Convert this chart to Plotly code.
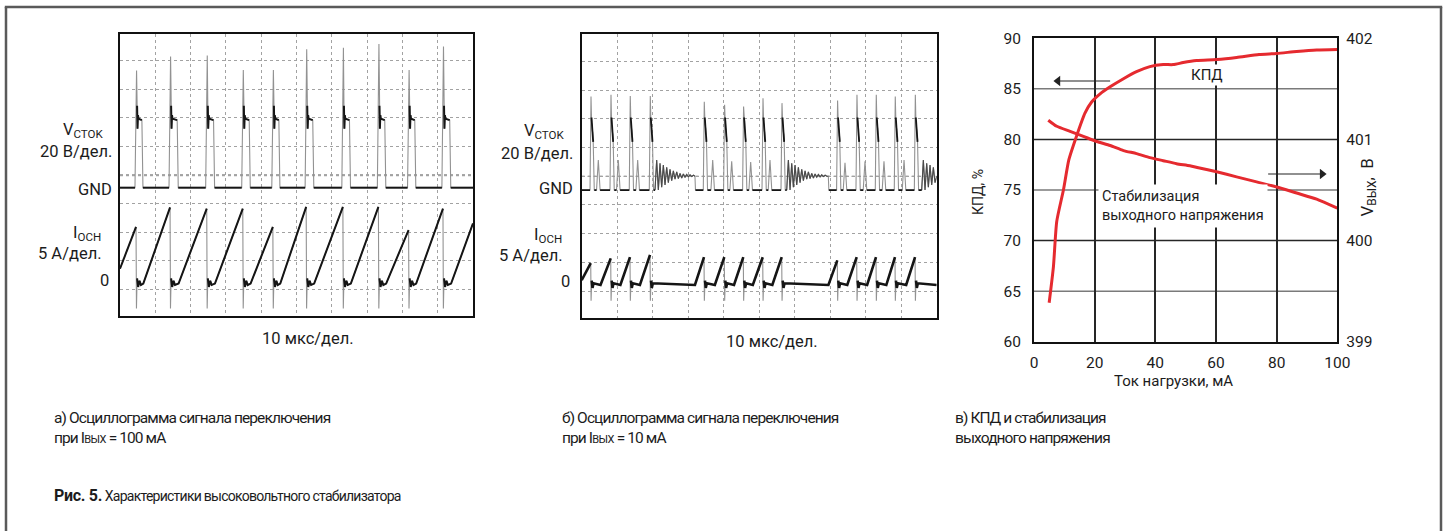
import plotly.graph_objects as go

W, H = 1444, 531
SANS = "Roboto, 'Liberation Sans', sans-serif"
INK = "#1c1c1c"

# ---------------- Panel a: scope trace at I_out = 100 mA (units: divisions) ----------------
A_RISE = [0.454, 1.418, 2.457, 3.478, 4.330, 5.274, 6.314, 7.320, 8.175, 9.149]
A_FALL = [0.620, 1.620, 2.650, 3.660, 4.500, 5.460, 6.500, 7.500, 8.350, 9.340]
A_SPIKE = [8.65, 9.14, 9.18, 8.67, 8.67, 9.40, 9.45, 9.58, 8.67, 9.49]
A_GND = 4.56
A_HIGH = 6.97
A_I_PEAK = [3.19, 3.87, 3.83, 3.83, 3.19, 3.89, 3.89, 3.89, 3.08, 3.83]
A_I_START = 1.73
A_I_END = 3.31
A_I_ZERO = 1.21
A_I_DIP = 0.34

# ---------------- Panel b: scope trace at I_out = 10 mA ----------------
B_MAIN = [0.254, 0.817, 1.360, 1.924, 3.445, 4.017, 4.552, 5.099, 5.634,
          7.200, 7.746, 8.290, 8.825, 9.390]
B_SPIKE = [7.78, 7.84, 7.80, 7.80, 7.60, 7.49, 7.43, 7.72, 7.55,
           7.64, 7.84, 7.84, 7.78, 7.84]
B_SEC_T = [0.468, 1.031, 1.577, 3.690, 4.225, 4.760, 5.304, 7.417, 7.980, 8.515, 9.080]
B_SEC_H = [5.57, 5.57, 5.57, 5.57, 5.52, 5.50, 5.57, 5.47, 5.52, 5.52, 5.57]
B_RING_T0 = [2.065, 5.775, 9.577]
B_RING_T1 = [3.190, 6.947, 10.0]
B_RING_HI = [5.57, 5.45, 5.39, 5.31, 5.24, 5.19, 5.15, 5.10, 5.08, 5.06, 5.05, 5.04, 5.03]
B_RING_LO = [4.52, 4.62, 4.70, 4.78, 4.85, 4.90, 4.92, 4.94, 4.97, 4.98, 4.99, 5.00, 5.00]
B_RING_PERIOD = 0.094
B_RING_LEVEL = 5.0
B_GND = 4.52
B_HIGH = 7.05
B_HIGH_END = 6.2
B_I_PEAK = [1.97, 2.14, 2.18, 2.26, 2.18, 2.18, 2.18, 2.18, 2.18,
            2.07, 2.18, 2.18, 2.18, 2.18]
B_I_RAMP0 = [0.0, 0.53, 1.09, 1.64, 3.19, 3.75, 4.29, 4.82, 5.37,
             6.95, 7.48, 8.04, 8.58, 9.14]
B_I_START = 1.38
B_I_ZERO = 1.21
B_I_DIP = 0.66

# ---------------- Panel c: efficiency and output voltage ----------------
X_EFF = [5.0, 6.4, 7.5, 9.7, 11.5, 14.1, 16.8, 19.0, 21.8, 25.1, 29.5, 33.8, 38.2,
         42.6, 45.9, 49.2, 53.6, 60.2, 66.8, 74.2, 80.0, 86.6, 93.2, 100.0]
EFF = [63.85, 67.4, 71.9, 75.0, 78.0, 80.4, 82.6, 83.7, 84.5, 85.2, 86.0, 86.7, 87.2,
       87.4, 87.4, 87.6, 87.8, 87.9, 88.1, 88.4, 88.5, 88.7, 88.85, 88.9]
X_V = [4.7, 7.5, 11.9, 16.3, 20.7, 25.1, 29.5, 33.8, 38.2, 42.6, 47.0, 51.4, 54.2,
       60.2, 66.8, 73.4, 80.0, 86.6, 93.2, 100.0]
V_OUT = [401.19, 401.13, 401.08, 401.03, 400.98, 400.94, 400.89, 400.86, 400.82, 400.79,
         400.76, 400.74, 400.72, 400.68, 400.63, 400.58, 400.53, 400.47, 400.41, 400.32]
X_TICKS = [0, 20, 40, 60, 80, 100]
EFF_TICKS = [60, 65, 70, 75, 80, 85, 90]
V_TICKS = [399, 400, 401, 402]
ARROW_EFF_X = [25.1, 7.9]
ARROW_EFF_Y = [85.78, 85.78]
ARROW_V_X = [77.2, 95.0]
ARROW_V_Y = [76.58, 76.58]

FAST, SLOW, MID = 0, 1, 2


def split_path(path, flag):
    """polyline of the segments carrying the given flag, broken with None elsewhere"""
    bx, by = [], []
    is_open = False
    for i in range(1, len(path)):
        if path[i][2] == flag:
            if not is_open:
                bx.append(path[i - 1][0]); by.append(path[i - 1][1]); is_open = True
            bx.append(path[i][0]); by.append(path[i][1])
        elif is_open:
            bx.append(None); by.append(None); is_open = False
    return bx, by


# --- panel a voltage
pa_v = [(0.0, A_GND, SLOW)]
for r, f, s in zip(A_RISE, A_FALL, A_SPIKE):
    pa_v += [(r - 0.03, A_GND, SLOW), (r + 0.015, s, FAST), (r + 0.03, A_HIGH + 0.45, FAST),
             (r + 0.042, A_HIGH - 0.35, SLOW), (r + 0.055, A_HIGH + 0.12, SLOW),
             (r + 0.07, A_HIGH, SLOW), (f, A_HIGH - 0.05, SLOW), (f + 0.03, A_GND, FAST)]
pa_v.append((10.0, A_GND, SLOW))

# --- panel a current
pa_i = [(0.0, A_I_START, SLOW)]
for r, f, p in zip(A_RISE, A_FALL, A_I_PEAK):
    pa_i += [(r, p, SLOW), (r + 0.012, A_I_DIP, FAST), (r + 0.03, A_I_ZERO + 0.18, FAST),
             (r + 0.06, A_I_ZERO - 0.12, SLOW), (r + 0.1, A_I_ZERO + 0.1, SLOW),
             (r + 0.14, A_I_ZERO - 0.05, SLOW), (f + 0.04, A_I_ZERO, SLOW)]
pa_i.append((10.0, A_I_END, SLOW))

# --- panel b voltage
events = sorted([(t, 'm', h) for t, h in zip(B_MAIN, B_SPIKE)] +
                [(t, 's', h) for t, h in zip(B_SEC_T, B_SEC_H)] +
                [(t0, 'r', t1) for t0, t1 in zip(B_RING_T0, B_RING_T1)])
pb_v = [(0.0, B_GND, SLOW)]
for t, kind, v in events:
    if kind == 'm':
        pb_v += [(t - 0.02, B_GND, SLOW), (t + 0.008, v, FAST), (t + 0.022, B_HIGH, FAST),
                 (t + 0.07, B_HIGH_END, SLOW), (t + 0.1, B_GND, FAST)]
    elif kind == 's':
        pb_v += [(t - 0.05, B_GND, SLOW), (t, v, FAST), (t + 0.05, B_GND, FAST)]
    else:
        t1 = v
        pb_v.append((t, B_GND, SLOW))
        j = 1
        while t + j * B_RING_PERIOD / 2 < t1 - 1e-9:
            idx = min((j - 1) // 2, len(B_RING_HI) - 1)
            val = B_RING_HI[idx] if j % 2 == 1 else B_RING_LO[idx]
            pb_v.append((t + j * B_RING_PERIOD / 2, val, MID))
            j += 1
        pb_v.append((t1, B_RING_LEVEL, MID))
        if t1 < 10:
            pb_v.append((t1 + 0.015, B_GND, FAST))
if pb_v[-1][0] < 10:
    pb_v.append((10.0, B_GND, SLOW))

# --- panel b current
pb_i = [(0.0, B_I_START, SLOW)]
for k, (t, p, r0) in enumerate(zip(B_MAIN, B_I_PEAK, B_I_RAMP0)):
    if k > 0:
        pb_i.append((r0, B_I_ZERO, SLOW))
    pb_i += [(t, p, SLOW), (t + 0.01, B_I_DIP, FAST), (t + 0.028, B_I_ZERO + 0.15, FAST),
             (t + 0.05, B_I_ZERO - 0.1, SLOW), (t + 0.08, B_I_ZERO + 0.06, SLOW)]
pb_i.append((10.0, B_I_ZERO, SLOW))

fig = go.Figure()


def add_scope(path, xa, ya, bw):
    fig.add_trace(go.Scatter(x=[p[0] for p in path], y=[p[1] for p in path],
                             xaxis=xa, yaxis=ya, mode='lines',
                             line=dict(color='#929292', width=1.1), hoverinfo='skip',
                             showlegend=False))
    mx, my = split_path(path, MID)
    if mx:
        fig.add_trace(go.Scatter(x=mx, y=my, xaxis=xa, yaxis=ya, mode='lines',
                                 line=dict(color='#4a4a4a', width=1.1), hoverinfo='skip',
                                 connectgaps=False, showlegend=False))
    bx, by = split_path(path, SLOW)
    fig.add_trace(go.Scatter(x=bx, y=by, xaxis=xa, yaxis=ya, mode='lines',
                             line=dict(color='#151515', width=bw), hoverinfo='skip',
                             connectgaps=False, showlegend=False))


add_scope(pa_v, 'x', 'y', 2.0)
add_scope(pa_i, 'x', 'y', 2.0)
add_scope(pb_v, 'x2', 'y2', 1.8)
add_scope(pb_i, 'x2', 'y2', 2.6)

RED = '#e52a2f'
fig.add_trace(go.Scatter(x=X_EFF, y=EFF, xaxis='x3', yaxis='y3', mode='lines',
                         line=dict(color=RED, width=3, shape='spline', smoothing=0.6),
                         showlegend=False, name='КПД'))
fig.add_trace(go.Scatter(x=X_V, y=V_OUT, xaxis='x3', yaxis='y4', mode='lines',
                         line=dict(color=RED, width=3, shape='spline', smoothing=0.6),
                         showlegend=False, name='Vвых'))
# pointer arrows (line + head marker)
for ax_x, ax_y, sym in [(ARROW_EFF_X, ARROW_EFF_Y, 'triangle-left'),
                        (ARROW_V_X, ARROW_V_Y, 'triangle-right')]:
    fig.add_trace(go.Scatter(x=ax_x, y=ax_y, xaxis='x3', yaxis='y3', mode='lines',
                             line=dict(color='#222', width=1.2), hoverinfo='skip',
                             showlegend=False))
    fig.add_trace(go.Scatter(x=[ax_x[1]], y=[ax_y[1]], xaxis='x3', yaxis='y3', mode='markers',
                             marker=dict(symbol=sym, size=9, color='#222',
                                         line=dict(width=0)),
                             hoverinfo='skip', showlegend=False))


def px(x):
    return x / W


def py(y):
    return 1 - y / H


scope_x = dict(range=[0, 10], tickvals=list(range(1, 10)), showticklabels=False, ticks='',
               showgrid=True, gridcolor='#a2a2a2', griddash='dot', gridwidth=1,
               showline=True, mirror=True, linecolor='#111', linewidth=1.6,
               zeroline=False, fixedrange=True, automargin=False)
scope_y = dict(tickvals=list(range(1, 10)), showticklabels=False, ticks='',
               showgrid=True, gridcolor='#a2a2a2', griddash='dot', gridwidth=1,
               showline=True, mirror=True, linecolor='#111', linewidth=1.6,
               zeroline=False, fixedrange=True, automargin=False)

fig.update_layout(
    width=W, height=H, margin=dict(l=0, r=0, t=0, b=0, autoexpand=False),
    paper_bgcolor='white', plot_bgcolor='white', showlegend=False,
    xaxis=dict(scope_x, domain=[px(120), px(473)], anchor='y'),
    yaxis=dict(scope_y, domain=[py(316), py(34)], range=[0.076, 9.93], anchor='x'),
    xaxis2=dict(scope_x, domain=[px(581.7), px(936.7)], anchor='y2'),
    yaxis2=dict(scope_y, domain=[py(318.3), py(34)], range=[0.05, 9.96], anchor='x2'),
    xaxis3=dict(domain=[px(1034), px(1337.3)], anchor='y3', range=[0, 100],
                tickvals=X_TICKS, ticks='', showgrid=True, gridcolor='#262626', gridwidth=1.5,
                showline=True, mirror=True, linecolor='#111', linewidth=2, zeroline=False,
                tickfont=dict(family=SANS, size=15.5, color=INK), ticklabelstandoff=6,
                automargin=False),
    yaxis3=dict(domain=[py(341.7), py(38.3)], anchor='x3', range=[60, 90],
                tickvals=EFF_TICKS, ticks='', showgrid=False,
                showline=True, mirror=True, linecolor='#111', linewidth=2, zeroline=False,
                tickfont=dict(family=SANS, size=15.5, color=INK), ticklabelstandoff=8,
                automargin=False),
    yaxis4=dict(overlaying='y3', anchor='x3', side='right', range=[399, 402],
                tickvals=V_TICKS, ticks='', showgrid=False, showline=False, zeroline=False,
                tickfont=dict(family=SANS, size=15.5, color=INK), ticklabelstandoff=8,
                automargin=False),
)

# scope centre lines
fig.add_shape(type='line', xref='x', yref='y', x0=0, x1=10, y0=5, y1=5,
              line=dict(color='#a8a8a8', width=2.2, dash='dot'), layer='below')
fig.add_shape(type='line', xref='x2', yref='y2', x0=0, x1=10, y0=5, y1=5,
              line=dict(color='#606060', width=1.2, dash='dot'), layer='below')

# panel c horizontal grid
for v in [65, 75, 85]:
    fig.add_shape(type='line', xref='x3', yref='y3', x0=0, x1=100, y0=v, y1=v,
                  line=dict(color='#7a7a7a', width=1.5), layer='below')
for v in [70, 80]:
    fig.add_shape(type='line', xref='x3', yref='y3', x0=0, x1=100, y0=v, y1=v,
                  line=dict(color='#262626', width=1.5), layer='below')

# outer frame (open at the bottom)
FRAME = dict(color='#5a5a5a', width=2.5)
fig.add_shape(type='line', xref='paper', yref='paper', x0=px(6), x1=px(6), y0=0, y1=py(7), line=FRAME)
fig.add_shape(type='line', xref='paper', yref='paper', x0=px(1441), x1=px(1441), y0=0, y1=py(7), line=FRAME)
fig.add_shape(type='line', xref='paper', yref='paper', x0=px(4.8), x1=px(1442.2), y0=py(7), y1=py(7), line=FRAME)


def txt(text, x, y, size, xanchor='left', **kw):
    fig.add_annotation(text=text, x=px(x), y=py(y), xref='paper', yref='paper',
                       showarrow=False, xanchor=xanchor, yanchor='middle',
                       font=dict(size=size, family=SANS, color=INK), **kw)


# scope labels
for dx, dy in [(0, 0), (460.7, 1.5)]:
    txt('V<sub>CTOK</sub>', 106 + dx, 130 + dy, 16.5, 'right')
    txt('20 В/дел.', 114 + dx, 151.5 + dy, 16.5, 'right')
    txt('GND', 114 + dx, 190 + (0 if dx == 0 else -1), 16.5, 'right')
    txt('I<sub>OCH</sub>', 103 + dx, 234 + dy, 16.5, 'right')
    txt('5 А/дел.', 104 + dx, 253.5 + dy, 16.5, 'right')
    txt('0', 111 + dx, 280 + dy, 16.5, 'right')
txt('10 мкс/дел.', 308.3, 338, 16.5, 'center')
txt('10 мкс/дел.', 771.7, 341.7, 16.5, 'center')

# panel c texts
fig.add_annotation(text='КПД, %', x=px(988), y=py(192), xref='paper', yref='paper',
                   showarrow=False, textangle=-90, font=dict(size=14, family=SANS, color=INK))
fig.add_annotation(text='V<sub>ВЫХ</sub>,  В', x=px(1382), y=py(188), xref='paper', yref='paper',
                   showarrow=False, textangle=-90, font=dict(size=17, family=SANS, color=INK))
txt('Ток нагрузки, мА', 1173, 381, 15, 'center')
fig.add_annotation(text='КПД', x=56.9, y=86.37, xref='x3', yref='y3', showarrow=False,
                   bgcolor='white', borderpad=1, font=dict(size=15, family=SANS, color=INK))
fig.add_annotation(text='Стабилизация<br>выходного напряжения', x=21.1, y=73.46,
                   xref='x3', yref='y3', showarrow=False, xanchor='left', align='left',
                   bgcolor='white', borderpad=3,
                   font=dict(size=14.5, family=SANS, color=INK))


# captions (condensed look via negative letter spacing)
def cond(s):
    return "<span style='letter-spacing:-0.9px'>" + s + "</span>"


SUB = "<span style='font-size:11px;letter-spacing:-0.6px'>ВЫХ</span>"
txt(cond('а) Осциллограмма сигнала переключения'), 52, 418, 15.5)
txt(cond('при I') + SUB + cond(' = 100 мА'), 52, 437.5, 15.5)
txt(cond('б) Осциллограмма сигнала переключения'), 560, 418, 15.5)
txt(cond('при I') + SUB + cond(' = 10 мА'), 560, 437.5, 15.5)
txt(cond('в) КПД и стабилизация'), 953, 418, 15.5)
txt(cond('выходного напряжения'), 953, 438, 15.5)
txt("<span style='font-size:16px;letter-spacing:-0.3px'><b>Рис. 5.</b></span>"
    "<span style='letter-spacing:-0.75px'> Характеристики высоковольтного стабилизатора</span>",
    52, 495, 14)

fig.write_html('out.html', config={'displayModeBar': False},
               post_script="document.body.style.margin='0px';"
                           "document.body.style.overflow='hidden';"
                           "document.documentElement.style.overflow='hidden';")
